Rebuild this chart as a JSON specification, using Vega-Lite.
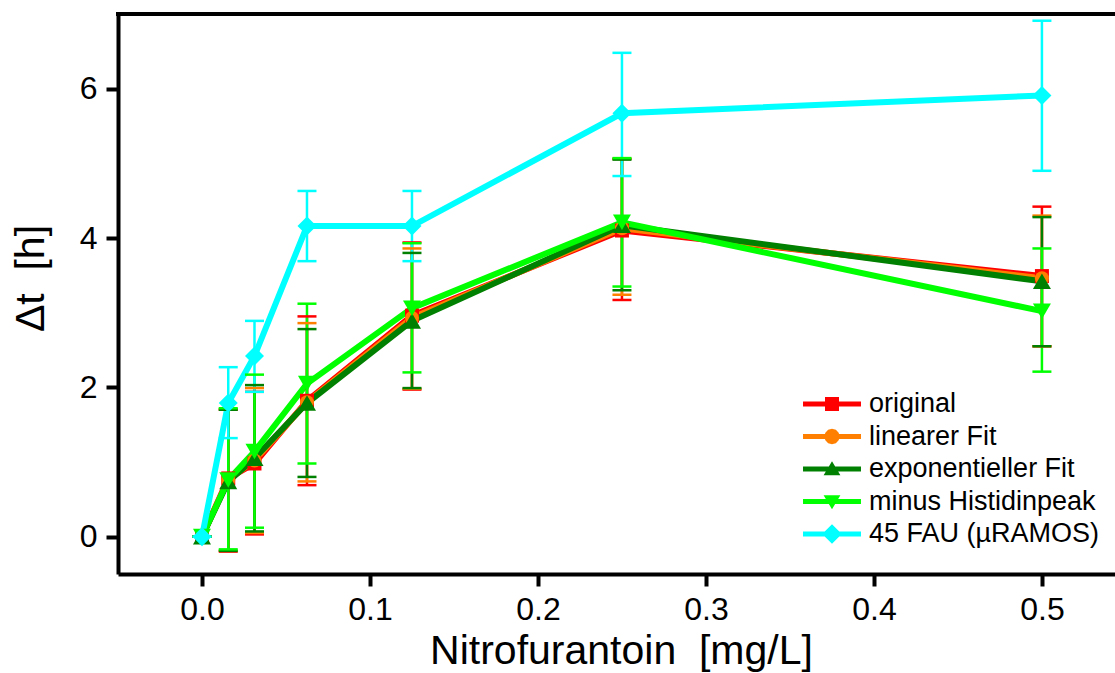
{
  "$schema": "https://vega.github.io/schema/vega-lite/v6.json",
  "width": 997,
  "height": 560,
  "autosize": {"type": "none"},
  "padding": {"left": 118, "top": 14, "right": 0, "bottom": 99},
  "background": "white",
  "config": {
    "view": {"stroke": null},
    "font": "Liberation Sans",
    "axis": {
      "domainColor": "black", "domainWidth": 4,
      "ticks": true, "tickColor": "black", "tickWidth": 4, "tickSize": 12,
      "labelFontSize": 32, "labelColor": "black", "labelFont": "Liberation Sans",
      "titleFont": "Liberation Sans", "titleFontSize": 41, "titleFontWeight": "normal", "titleColor": "black",
      "grid": false
    },
    "axisX": {"ticks": true, "tickColor": "black", "tickWidth": 4, "tickSize": 12, "labelFontSize": 32, "domainWidth": 4},
    "axisY": {"ticks": true, "tickColor": "black", "tickWidth": 4, "tickSize": 12, "labelFontSize": 32, "domainWidth": 4},
    "axisQuantitative": {"ticks": true, "tickColor": "black", "tickWidth": 4, "tickSize": 12, "labelFontSize": 32, "domainWidth": 4},
    "axisXQuantitative": {"ticks": true, "tickColor": "black", "tickWidth": 4, "tickSize": 12, "labelFontSize": 32, "domainWidth": 4},
    "axisYQuantitative": {"ticks": true, "tickColor": "black", "tickWidth": 4, "tickSize": 12, "labelFontSize": 32, "domainWidth": 4}
  },
  "data": {"values": [
    {"series": "original", "x": 0, "y": 0, "lo": 0, "hi": 0},
    {"series": "original", "x": 0.015625, "y": 0.78, "lo": -0.20, "hi": 1.70},
    {"series": "original", "x": 0.03125, "y": 0.98, "lo": 0.03, "hi": 1.94},
    {"series": "original", "x": 0.0625, "y": 1.82, "lo": 0.69, "hi": 2.95},
    {"series": "original", "x": 0.125, "y": 2.96, "lo": 1.97, "hi": 3.94},
    {"series": "original", "x": 0.25, "y": 4.10, "lo": 3.17, "hi": 5.06},
    {"series": "original", "x": 0.5, "y": 3.49, "lo": 2.55, "hi": 4.42},
    {"series": "linearer Fit", "x": 0, "y": 0, "lo": 0, "hi": 0},
    {"series": "linearer Fit", "x": 0.015625, "y": 0.76, "lo": -0.19, "hi": 1.71},
    {"series": "linearer Fit", "x": 0.03125, "y": 1.02, "lo": 0.05, "hi": 1.99},
    {"series": "linearer Fit", "x": 0.0625, "y": 1.80, "lo": 0.74, "hi": 2.86},
    {"series": "linearer Fit", "x": 0.125, "y": 2.93, "lo": 1.98, "hi": 3.86},
    {"series": "linearer Fit", "x": 0.25, "y": 4.13, "lo": 3.24, "hi": 5.06},
    {"series": "linearer Fit", "x": 0.5, "y": 3.46, "lo": 2.55, "hi": 4.30},
    {"series": "exponentieller Fit", "x": 0, "y": 0, "lo": 0, "hi": 0},
    {"series": "exponentieller Fit", "x": 0.015625, "y": 0.74, "lo": -0.19, "hi": 1.70},
    {"series": "exponentieller Fit", "x": 0.03125, "y": 1.05, "lo": 0.07, "hi": 2.03},
    {"series": "exponentieller Fit", "x": 0.0625, "y": 1.79, "lo": 0.80, "hi": 2.78},
    {"series": "exponentieller Fit", "x": 0.125, "y": 2.89, "lo": 1.99, "hi": 3.80},
    {"series": "exponentieller Fit", "x": 0.25, "y": 4.17, "lo": 3.30, "hi": 5.05},
    {"series": "exponentieller Fit", "x": 0.5, "y": 3.42, "lo": 2.55, "hi": 4.28},
    {"series": "minus Histidinpeak", "x": 0, "y": 0, "lo": 0, "hi": 0},
    {"series": "minus Histidinpeak", "x": 0.015625, "y": 0.76, "lo": -0.17, "hi": 1.72},
    {"series": "minus Histidinpeak", "x": 0.03125, "y": 1.14, "lo": 0.12, "hi": 2.17},
    {"series": "minus Histidinpeak", "x": 0.0625, "y": 2.05, "lo": 0.98, "hi": 3.12},
    {"series": "minus Histidinpeak", "x": 0.125, "y": 3.06, "lo": 2.20, "hi": 3.93},
    {"series": "minus Histidinpeak", "x": 0.25, "y": 4.21, "lo": 3.35, "hi": 5.07},
    {"series": "minus Histidinpeak", "x": 0.5, "y": 3.02, "lo": 2.21, "hi": 3.86},
    {"series": "45 FAU (µRAMOS)", "x": 0, "y": 0, "lo": 0, "hi": 0},
    {"series": "45 FAU (µRAMOS)", "x": 0.015625, "y": 1.79, "lo": 1.32, "hi": 2.27},
    {"series": "45 FAU (µRAMOS)", "x": 0.03125, "y": 2.42, "lo": 1.94, "hi": 2.89},
    {"series": "45 FAU (µRAMOS)", "x": 0.0625, "y": 4.16, "lo": 3.69, "hi": 4.63},
    {"series": "45 FAU (µRAMOS)", "x": 0.125, "y": 4.16, "lo": 3.69, "hi": 4.63},
    {"series": "45 FAU (µRAMOS)", "x": 0.25, "y": 5.67, "lo": 4.83, "hi": 6.48},
    {"series": "45 FAU (µRAMOS)", "x": 0.5, "y": 5.91, "lo": 4.90, "hi": 6.91}
  ]},
  "layer": [
    {
      "mark": {"type": "line", "strokeWidth": 6},
      "encoding": {
        "x": {"field": "x", "type": "quantitative", "scale": {"domain": [-0.05, 0.5435], "nice": false, "zero": false},
          "axis": {"orient": "bottom", "values": [0, 0.1, 0.2, 0.3, 0.4, 0.5], "format": ".1f", "labelPadding": 8,
            "labelFontSize": 32, "ticks": true, "tickSize": 12, "tickWidth": 4, "tickColor": "black",
            "title": "Nitrofurantoin \u00a0[mg/L]", "titleX": 503, "titleY": 89, "titleBaseline": "alphabetic"}},
        "y": {"field": "y", "type": "quantitative", "scale": {"domain": [-0.5, 7], "nice": false, "zero": false},
          "axis": {"orient": "left", "values": [0, 2, 4, 6], "format": "d", "labelPadding": 9,
            "labelFontSize": 32, "ticks": true, "tickSize": 12, "tickWidth": 4, "tickColor": "black",
            "title": "Δt \u00a0[h]", "titleAngle": 270, "titleX": -75, "titleY": 264, "titleBaseline": "alphabetic"}},
        "color": {"field": "series", "type": "nominal",
          "scale": {"domain": ["original", "linearer Fit", "exponentieller Fit", "minus Histidinpeak", "45 FAU (µRAMOS)"],
                    "range": ["#ff0000", "#ff8000", "#008000", "#00ff00", "#00ffff"]},
          "legend": {
            "orient": "none", "legendX": 700, "legendY": 376, "title": null,
            "symbolType": "M-2.07,-0.18H2.07V0.18H-2.07Z", "symbolSize": 784,
            "labelFontSize": 27, "labelFont": "Liberation Sans", "labelColor": "black", "labelLimit": 0,
            "labelOffset": 23, "rowPadding": 5.5, "padding": 0,
            "encode": {"symbols": {"update": {
              "shape": {"signal": "datum.value === 'original' ? 'M-2.07,-0.18H2.07V0.18H-2.07Z M-0.5,-0.5H0.5V0.5H-0.5Z' : datum.value === 'linearer Fit' ? 'M-2.07,-0.18H2.07V0.18H-2.07Z M0.55,0L0.476,0.275L0.275,0.476L0,0.55L-0.275,0.476L-0.476,0.275L-0.55,0L-0.476,-0.275L-0.275,-0.476L0,-0.55L0.275,-0.476L0.476,-0.275Z' : datum.value === 'exponentieller Fit' ? 'M-2.07,-0.18H2.07V0.18H-2.07Z M0,-0.55L0.6,0.45L-0.6,0.45Z' : datum.value === 'minus Histidinpeak' ? 'M-2.07,-0.18H2.07V0.18H-2.07Z M0,0.55L-0.6,-0.45L0.6,-0.45Z' : 'M-2.07,-0.18H2.07V0.18H-2.07Z M0,-0.7L0.7,0L0,0.7L-0.7,0Z'"},
              "fill": {"scale": "color", "field": "value"},
              "stroke": {"value": "transparent"},
              "strokeWidth": {"value": 0},
              "opacity": {"value": 1}
            }}}
          }}
      }
    },
    {
      "mark": {"type": "rule", "strokeWidth": 4, "color": "black", "strokeCap": "square"},
      "encoding": {
        "x": {"datum": -0.05, "type": "quantitative"},
        "x2": {"datum": 0.5435},
        "y": {"datum": 7, "type": "quantitative"}
      }
    },
    {
      "mark": {"type": "rule", "strokeWidth": 2.5, "opacity": 1},
      "encoding": {
        "x": {"field": "x", "type": "quantitative"},
        "y": {"field": "lo", "type": "quantitative"},
        "y2": {"field": "hi"},
        "color": {"field": "series", "type": "nominal"}
      }
    },
    {
      "mark": {"type": "point", "shape": "M-1,0H1", "size": 361, "filled": false, "strokeWidth": 2.5, "opacity": 1},
      "encoding": {
        "x": {"field": "x", "type": "quantitative"},
        "y": {"field": "hi", "type": "quantitative"},
        "color": {"field": "series", "type": "nominal"}
      }
    },
    {
      "mark": {"type": "point", "shape": "M-1,0H1", "size": 361, "filled": false, "strokeWidth": 2.5, "opacity": 1},
      "encoding": {
        "x": {"field": "x", "type": "quantitative"},
        "y": {"field": "lo", "type": "quantitative"},
        "color": {"field": "series", "type": "nominal"}
      }
    },
    {
      "transform": [{"filter": "datum.series === 'original'"}],
      "mark": {"type": "point", "shape": "square", "size": 196, "filled": true, "opacity": 1},
      "encoding": {
        "x": {"field": "x", "type": "quantitative"},
        "y": {"field": "y", "type": "quantitative"},
        "color": {"field": "series", "type": "nominal"}
      }
    },
    {
      "transform": [{"filter": "datum.series === 'linearer Fit'"}],
      "mark": {"type": "point", "shape": "circle", "size": 196, "filled": true, "opacity": 1},
      "encoding": {
        "x": {"field": "x", "type": "quantitative"},
        "y": {"field": "y", "type": "quantitative"},
        "color": {"field": "series", "type": "nominal"}
      }
    },
    {
      "transform": [{"filter": "datum.series === 'exponentieller Fit'"}],
      "mark": {"type": "point", "shape": "triangle-up", "size": 324, "filled": true, "opacity": 1},
      "encoding": {
        "x": {"field": "x", "type": "quantitative"},
        "y": {"field": "y", "type": "quantitative"},
        "color": {"field": "series", "type": "nominal"}
      }
    },
    {
      "transform": [{"filter": "datum.series === 'minus Histidinpeak'"}],
      "mark": {"type": "point", "shape": "triangle-down", "size": 324, "filled": true, "opacity": 1},
      "encoding": {
        "x": {"field": "x", "type": "quantitative"},
        "y": {"field": "y", "type": "quantitative"},
        "color": {"field": "series", "type": "nominal"}
      }
    },
    {
      "transform": [{"filter": "datum.series === '45 FAU (µRAMOS)'"}],
      "mark": {"type": "point", "shape": "diamond", "size": 361, "filled": true, "opacity": 1},
      "encoding": {
        "x": {"field": "x", "type": "quantitative"},
        "y": {"field": "y", "type": "quantitative"},
        "color": {"field": "series", "type": "nominal"}
      }
    }
  ]
}
